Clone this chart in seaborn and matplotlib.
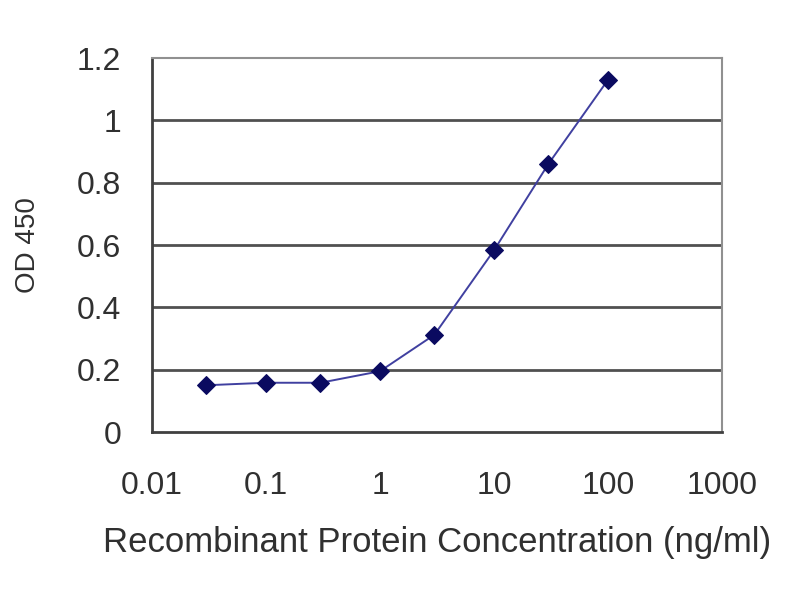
import pandas as pd
import matplotlib
matplotlib.use("Agg")
import matplotlib.pyplot as plt
import seaborn as sns

# data
conc = [0.03, 0.1, 0.3, 1, 3, 10, 30, 100]
od450 = [0.150, 0.158, 0.158, 0.195, 0.312, 0.583, 0.860, 1.130]
xticks = [0.01, 0.1, 1, 10, 100, 1000]
xticklabels = ["0.01", "0.1", "1", "10", "100", "1000"]
yticks = [0, 0.2, 0.4, 0.6, 0.8, 1, 1.2]
yticklabels = ["0", "0.2", "0.4", "0.6", "0.8", "1", "1.2"]

df = pd.DataFrame({"conc": conc, "od": od450})

sns.set_style("white")
plt.rcParams["font.family"] = ["Liberation Sans", "DejaVu Sans"]

fig = plt.figure(figsize=(8, 6), dpi=100)
ax = fig.add_axes([0.19, 0.28, 0.7125, 0.6233])

# gridlines first so the curve sits on top
for y in yticks[1:-1]:
    ax.axhline(y, color="#505050", lw=2, zorder=1)

sns.lineplot(data=df, x="conc", y="od", ax=ax, color="#4040a0", lw=1.4,
             marker="D", markersize=9.5, markerfacecolor="#0a0a60",
             markeredgecolor="#0a0a60", zorder=3)

ax.set_xscale("log")
ax.set_xlim(0.01, 1000)
ax.set_ylim(0, 1.2)
ax.set_xticks(xticks)
ax.set_xticklabels(xticklabels)
ax.xaxis.set_minor_locator(matplotlib.ticker.NullLocator())
ax.set_yticks(yticks)
ax.set_yticklabels(yticklabels)

ax.tick_params(axis="x", direction="in", length=6, width=1.5, color="#404040",
               labelsize=23, pad=28, labelcolor="#303030")
ax.tick_params(axis="y", direction="out", length=4, width=1.5, color="#404040",
               labelsize=23, pad=18, labelcolor="#303030")

for side in ["left", "bottom"]:
    ax.spines[side].set_color("#404040")
    ax.spines[side].set_linewidth(2)
for side in ["top", "right"]:
    ax.spines[side].set_color("#909090")
    ax.spines[side].set_linewidth(1.5)

ax.set_xlabel("Recombinant Protein Concentration (ng/ml)", fontsize=25,
              color="#303030", labelpad=18)
ax.set_ylabel("OD 450", fontsize=20, color="#303030", labelpad=26)

fig.savefig("out.png", dpi=100, facecolor="white")
